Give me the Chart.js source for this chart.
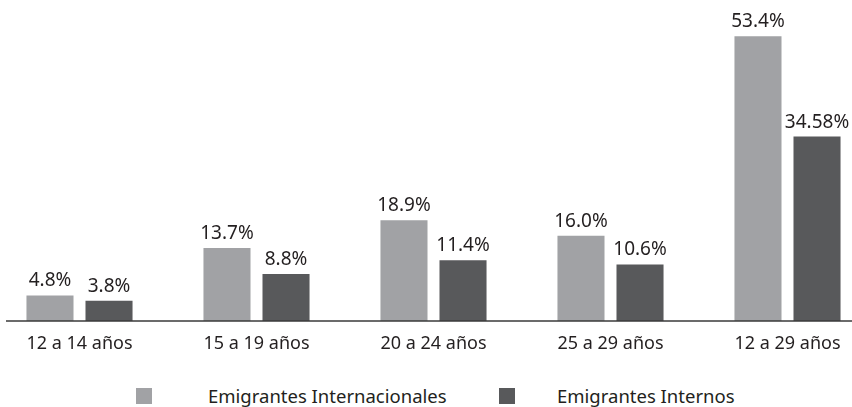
<!DOCTYPE html>
<html>
<head>
<meta charset="utf-8">
<script src="https://cdn.jsdelivr.net/npm/chart.js@4"></script>
<style>
  html, body { margin: 0; padding: 0; background: #fff; overflow: hidden; }
  body { width: 852px; height: 407px; position: relative; }
  #wrap { position: absolute; left: -9px; top: 0; width: 885px; height: 366px; }
  .legend { position: absolute; top: 383px; font-family: "Noto Sans", sans-serif; font-size: 18.5px; color: #231f20; white-space: nowrap; }
  .box { position: absolute; top: 388px; width: 16px; height: 16px; }
</style>
</head>
<body>
<div id="wrap"><canvas id="myChart"></canvas></div>

<span class="box" style="left:136px; background:#a1a2a5"></span>
<div class="legend" style="left:208px">Emigrantes Internacionales</div>
<span class="box" style="left:499px; background:#58595b"></span>
<div class="legend" style="left:557px">Emigrantes Internos</div>

<script>
  // Age groups and the share of each migrant type (%)
  const ageGroups = ['12 a 14 años', '15 a 19 años', '20 a 24 años', '25 a 29 años', '12 a 29 años'];
  const internacionales = [4.8, 13.7, 18.9, 16.0, 53.4];
  const internos = [3.8, 8.8, 11.4, 10.6, 34.58];

  const textColor = '#231f20';

  // Format value with one decimal unless it has two
  function fmt(v) {
    return v.toFixed(Math.round(v * 100) % 10 ? 2 : 1) + '%';
  }

  // Value labels over each bar
  const valueLabels = {
    id: 'valueLabels',
    afterDatasetsDraw(chart) {
      const c = chart.ctx;
      c.save();
      c.font = '19px "Noto Sans"';
      c.fillStyle = textColor;
      c.textAlign = 'center';
      c.textBaseline = 'alphabetic';
      chart.data.datasets.forEach((ds, i) => {
        chart.getDatasetMeta(i).data.forEach((bar, j) => {
          c.fillText(fmt(ds.data[j]), bar.x, bar.y - 9);
        });
      });
      c.restore();
    }
  };

  // Base line under the bars
  const baseLine = {
    id: 'baseLine',
    afterDatasetsDraw(chart) {
      const c = chart.ctx;
      const y = chart.scales.y.getPixelForValue(0);
      c.save();
      c.strokeStyle = '#3a3a3a';
      c.lineWidth = 1.6;
      c.beginPath();
      c.moveTo(15, y);
      c.lineTo(chart.width, y);
      c.stroke();
      c.restore();
    }
  };

  const ctx = document.getElementById('myChart').getContext('2d');

  const myChart = new Chart(ctx, {
    type: 'bar',
    data: {
      labels: ageGroups,
      datasets: [{
        label: 'Emigrantes Internacionales',
        data: internacionales,
        backgroundColor: '#a1a2a5',
        categoryPercentage: 0.667,
        barPercentage: 0.797
      }, {
        label: 'Emigrantes Internos',
        data: internos,
        backgroundColor: '#58595b',
        categoryPercentage: 0.667,
        barPercentage: 0.797
      }]
    },
    options: {
      responsive: true,
      maintainAspectRatio: false,
      animation: false,
      layout: { padding: { top: 1, left: 0, right: 0, bottom: 0 } },
      plugins: {
        legend: { display: false },
        tooltip: { enabled: false }
      },
      scales: {
        x: {
          border: { display: false },
          grid: { display: false, drawTicks: false },
          ticks: {
            color: textColor,
            font: { family: 'Noto Sans', size: 18 },
            padding: 12
          },
          afterFit(scale) { scale.height = 366 - 321; }
        },
        y: {
          display: false,
          min: 0,
          max: 60
        }
      }
    },
    plugins: [valueLabels, baseLine]
  });
</script>
</body>
</html>
